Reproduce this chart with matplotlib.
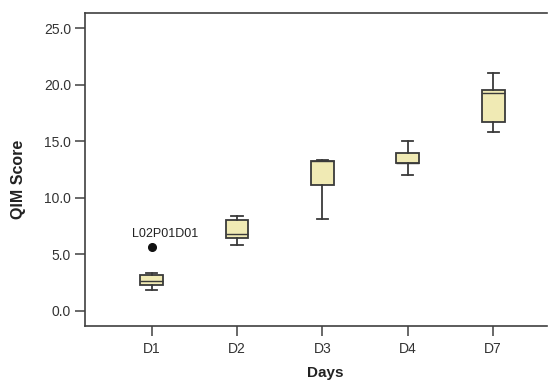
import matplotlib
matplotlib.use("Agg")
import matplotlib.pyplot as plt

plt.rcParams['font.family'] = ['Liberation Sans', 'DejaVu Sans']

days = ["D1", "D2", "D3", "D4", "D7"]
whis_low = [1.8, 5.79, 8.11, 11.98, 15.81]
q1 = [2.25, 6.46, 11.15, 13.08, 16.73]
medians = [2.65, 6.76, 13.25, 13.08, 19.24]
q3 = [3.2, 8.03, 13.27, 14.0, 19.53]
whis_high = [3.31, 8.38, 13.36, 15.02, 21.04]
outliers = [[5.66], [], [], [], []]
outlier_label = "L02P01D01"
y_ticks = [0, 5, 10, 15, 20, 25]

fig = plt.figure(figsize=(5.48, 3.81), dpi=100)
ax = fig.add_axes([85/548, 55.3/381, 462/548, 313/381])

stats = []
for i, d in enumerate(days):
    stats.append(dict(label=d, whislo=whis_low[i], q1=q1[i], med=medians[i],
                      q3=q3[i], whishi=whis_high[i], fliers=outliers[i]))

edge = "#3a3a3a"
ax.bxp(stats, positions=range(1, len(days) + 1), widths=0.265,
       patch_artist=True, showfliers=True,
       boxprops=dict(facecolor="#F0EAB4", edgecolor=edge, linewidth=1.3),
       medianprops=dict(color=edge, linewidth=1.0),
       whiskerprops=dict(color=edge, linewidth=1.3),
       capprops=dict(color=edge, linewidth=1.3),
       flierprops=dict(marker="o", markerfacecolor="#111111",
                       markeredgecolor="#111111", markersize=5.5))

ax.annotate(outlier_label, xy=(1, outliers[0][0]), xytext=(10, 9.2),
            textcoords="offset points", ha="center", va="center",
            fontsize=9, color="#222222")

ax.set_xlim(0.22, 5.63)
ax.set_ylim(-1.33, 26.38)
ax.set_yticks(y_ticks)
ax.set_yticklabels([f"{v:.1f}" for v in y_ticks])
ax.set_xticks(range(1, len(days) + 1))
ax.set_xticklabels(days)

for s in ["left", "bottom", "top"]:
    ax.spines[s].set_color("#404040")
    ax.spines[s].set_linewidth(1.2)
ax.spines["right"].set_visible(False)

ax.tick_params(axis="both", direction="out", length=7, width=1.1,
               color="#404040", labelsize=10, labelcolor="#333333")
ax.tick_params(axis="y", pad=3)
ax.tick_params(axis="x", pad=5)

ax.set_xlabel("Days", fontsize=11, fontweight="bold", color="#222222")
ax.set_ylabel("QIM Score", fontsize=11.5, fontweight="bold", color="#222222")
ax.xaxis.label.set_va("center")
ax.yaxis.label.set_va("center")
ax.xaxis.set_label_coords(0.519, -0.151)
ax.yaxis.set_label_coords(-0.143, 0.469)

fig.savefig("out.png", dpi=100)
